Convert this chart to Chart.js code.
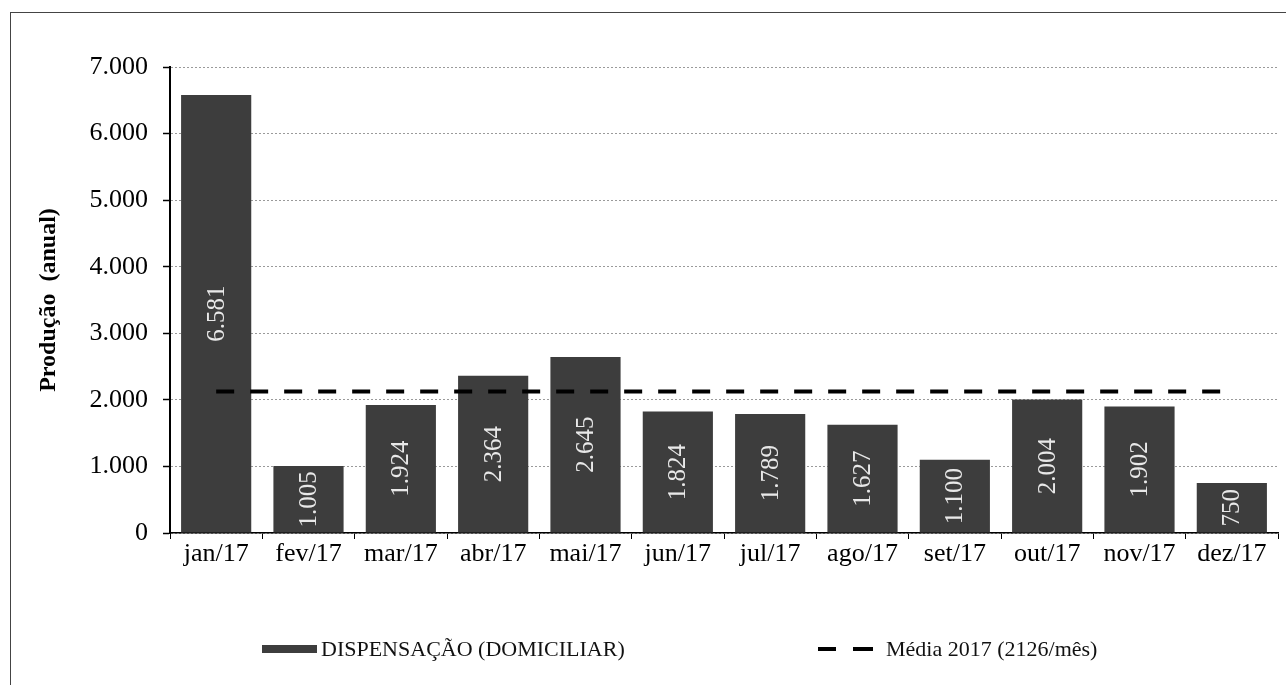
<!DOCTYPE html>
<html>
<head>
<meta charset="utf-8">
<script src="https://cdn.jsdelivr.net/npm/chart.js@4/dist/chart.umd.min.js"></script>
<style>
html,body{margin:0;padding:0;background:#fff;}
#wrap{position:relative;width:1286px;height:685px;}
</style>
</head>
<body>
<div id="wrap"><canvas id="c" width="1286" height="685"></canvas></div>
<script>
const categories = ['jan/17','fev/17','mar/17','abr/17','mai/17','jun/17','jul/17','ago/17','set/17','out/17','nov/17','dez/17'];
const dispensacao = [6581, 1005, 1924, 2364, 2645, 1824, 1789, 1627, 1100, 2004, 1902, 750];
const mediaValue = 2126;
const media = categories.map(() => mediaValue);
const seriesBarLabel = 'DISPENSAÇÃO (DOMICILIAR)';
const seriesLineLabel = 'Média 2017 (2126/mês)';
const yTitle = 'Produção  (anual)';
const yMax = 7000, yStep = 1000;

const SERIF = '"Liberation Serif", "Times New Roman", serif';

function fmt(v){ return v.toLocaleString('de-DE'); }

const valueLabels = {
  id: 'valueLabels',
  afterDatasetsDraw(chart){
    const ctx = chart.ctx;
    const meta = chart.getDatasetMeta(0);
    ctx.save();
    ctx.font = '25px ' + SERIF;
    ctx.fillStyle = '#e8e8e8';
    ctx.textAlign = 'center';
    ctx.textBaseline = 'middle';
    meta.data.forEach((bar, i) => {
      const cy = (bar.y + bar.base) / 2;
      ctx.save();
      ctx.translate(bar.x, cy);
      ctx.rotate(-Math.PI/2);
      ctx.fillText(fmt(chart.data.datasets[0].data[i]), 0, 1);
      ctx.restore();
    });
    ctx.restore();
  }
};

const frameAndLegend = {
  id: 'frameAndLegend',
  afterDraw(chart){
    const ctx = chart.ctx;
    ctx.save();
    ctx.strokeStyle = '#444';
    ctx.lineWidth = 1;
    ctx.strokeRect(10.5, 12.5, 1290, 700);
    ctx.fillStyle = '#3d3d3d';
    ctx.fillRect(262, 645, 55, 8);
    ctx.font = '22px ' + SERIF;
    ctx.fillStyle = '#111';
    ctx.textAlign = 'left';
    ctx.textBaseline = 'middle';
    ctx.fillText(chart.data.datasets[0].label, 321, 650);
    ctx.strokeStyle = '#000';
    ctx.lineWidth = 4;
    ctx.beginPath();
    ctx.moveTo(818, 649); ctx.lineTo(836, 649);
    ctx.moveTo(853, 649); ctx.lineTo(873, 649);
    ctx.stroke();
    ctx.fillText(chart.data.datasets[1].label, 886, 650);
    ctx.restore();
  }
};

new Chart(document.getElementById('c'), {
  data: {
    labels: categories,
    datasets: [
      {
        type: 'bar',
        label: seriesBarLabel,
        data: dispensacao,
        backgroundColor: '#3d3d3d',
        borderWidth: 0,
        barPercentage: 0.76,
        categoryPercentage: 1.0,
        order: 2
      },
      {
        type: 'line',
        label: seriesLineLabel,
        data: media,
        borderColor: '#000',
        borderWidth: 4,
        borderDash: [18, 16],
        pointRadius: 0,
        fill: false,
        order: 1
      }
    ]
  },
  options: {
    responsive: false,
    animation: false,
    devicePixelRatio: 1,
    layout: { padding: { left: 0, right: 8, top: 67, bottom: 0 } },
    plugins: { legend: { display: false }, tooltip: { enabled: false } },
    scales: {
      x: {
        type: 'category',
        offset: true,
        grid: {
          display: true,
          offset: true,
          drawOnChartArea: false,
          drawTicks: true,
          tickLength: 6,
          tickColor: '#000',
          tickWidth: 1
        },
        border: { display: true, color: '#000', width: 1.5 },
        ticks: {
          color: '#000',
          font: { family: SERIF, size: 26 },
          padding: 0,
          maxRotation: 0,
          autoSkip: false
        },
        afterFit(scale){ scale.height = 685 - 533; }
      },
      y: {
        min: 0,
        max: yMax,
        grid: {
          color: '#9a9a9a',
          lineWidth: 1,
          drawTicks: true,
          tickLength: 7,
          tickColor: '#000',
          tickWidth: 1.5,
          tickBorderDash: []
        },
        border: { display: true, color: '#000', width: 2, dash: [2, 2] },
        ticks: {
          stepSize: yStep,
          color: '#000',
          padding: 15,
          font: { family: SERIF, size: 26 },
          callback: (v) => fmt(v)
        },
        title: {
          display: true,
          text: yTitle,
          color: '#000',
          font: { family: SERIF, size: 24, weight: 'bold' },
          padding: { top: 34, bottom: 0 }
        },
        afterFit(scale){ scale.width = 170; }
      }
    }
  },
  plugins: [valueLabels, frameAndLegend]
});
</script>
</body>
</html>
